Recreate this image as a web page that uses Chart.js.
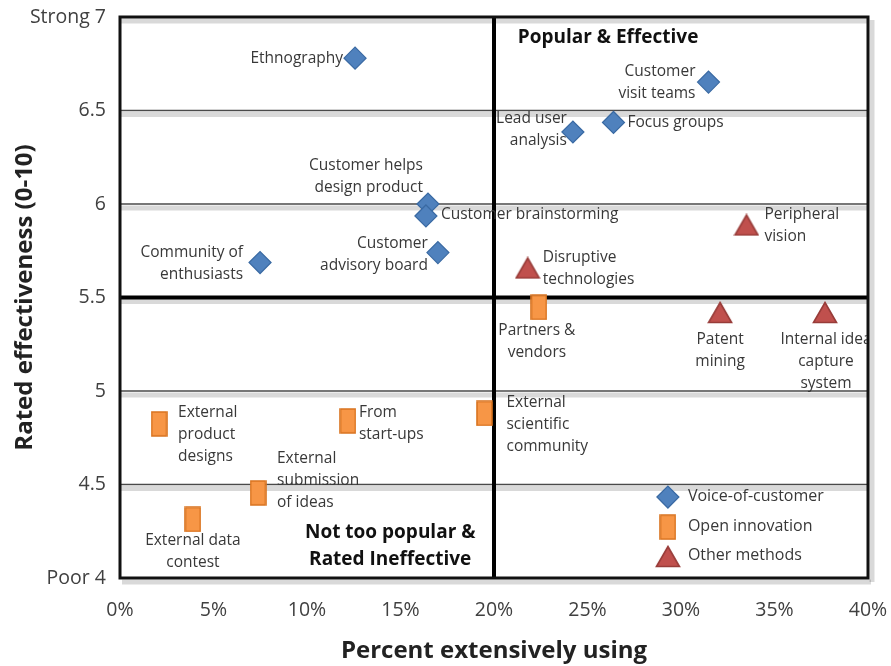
<!DOCTYPE html>
<html>
<head>
<meta charset="utf-8">
<script src="https://cdn.jsdelivr.net/npm/chart.js@4.4.1/dist/chart.umd.min.js"></script>
<style>
  html, body { margin: 0; padding: 0; background: #fff; }
  #wrap { width: 891px; height: 666px; position: relative; }
</style>
</head>
<body>
<div id="wrap"><canvas id="chart"></canvas></div>
<script>
// ---- data ----
const seriesNames = ['Voice-of-customer', 'Open innovation', 'Other methods'];

const vocNames = [['Ethnography'], ['Customer', 'visit teams'], ['Lead user', 'analysis'], ['Focus groups'],
  ['Customer helps', 'design product'], ['Customer brainstorming'], ['Customer', 'advisory board'], ['Community of', 'enthusiasts']];
const vocPct = [12.57, 31.47, 24.22, 26.39, 16.47, 16.36, 17.0, 7.49];
const vocScore = [6.78, 6.652, 6.385, 6.436, 6.0, 5.936, 5.74, 5.687];

const openNames = [['Partners &', 'vendors'], ['External', 'scientific', 'community'], ['External', 'product', 'designs'],
  ['From', 'start-ups'], ['External', 'submission', 'of ideas'], ['External data', 'contest']];
const openPct = [22.4, 19.49, 2.09, 12.19, 7.38, 3.9];
const openScore = [5.447, 4.88, 4.824, 4.84, 4.455, 4.313];

const otherNames = [['Disruptive', 'technologies'], ['Peripheral', 'vision'], ['Patent', 'mining'], ['Internal idea', 'capture', 'system']];
const otherPct = [21.8, 33.5, 32.09, 37.7];
const otherScore = [5.658, 5.888, 5.42, 5.42];

const xTickValues = [0, 5, 10, 15, 20, 25, 30, 35, 40];
const xTickLabels = ['0%', '5%', '10%', '15%', '20%', '25%', '30%', '35%', '40%'];
const yTickValues = [4, 4.5, 5, 5.5, 6, 6.5, 7];
const yTickLabels = ['Poor 4', '4.5', '5', '5.5', '6', '6.5', 'Strong 7'];

const xSplit = 20;    // popularity divider
const ySplit = 5.5;   // effectiveness divider

// label placement relative to its marker: [dx, dy of first line, align]
const vocLabelPos = [[-12, 0, 'right'], [-13, -10, 'right'], [-6, -13, 'right'], [14, 0, 'left'],
  [-5, -38, 'right'], [15, -1, 'left'], [-10, -9, 'right'], [-17, -10, 'right']];
const openLabelPos = [[-2, 23, 'center'], [22, -11, 'left'], [19, -11, 'left'],
  [11, -8, 'left'], [19, -34, 'left'], [0, 21, 'center']];
const otherLabelPos = [[15, -10, 'left'], [18, -10, 'left'], [0, 27, 'center'], [1, 27, 'center']];

const FONT = '"Open Sans", "Liberation Sans", sans-serif';
const TEXT = '#383838';

// orange bar marker and red triangle marker as small canvases
function makeMarker(w, h, fill, stroke, shape) {
  const c = document.createElement('canvas');
  c.width = w; c.height = h;
  const g = c.getContext('2d');
  g.fillStyle = fill; g.strokeStyle = stroke; g.lineWidth = 1.6;
  g.beginPath();
  if (shape === 'tri') {
    g.moveTo(w / 2, 1.5); g.lineTo(w - 1.5, h - 1.5); g.lineTo(1.5, h - 1.5); g.closePath();
  } else {
    g.rect(1, 1, w - 2, h - 2);
  }
  g.fill(); g.stroke();
  return c;
}
const barMarker = makeMarker(17, 26, '#F79646', '#D9731F', 'rect');
const triMarker = makeMarker(26, 23, '#C0504D', '#983C39', 'tri');

function pts(xs, ys) { return xs.map((v, i) => ({ x: v, y: ys[i] })); }

function hLine(ctx, x1, x2, y) { ctx.beginPath(); ctx.moveTo(x1, y); ctx.lineTo(x2, y); ctx.stroke(); }
function vLine(ctx, x, y1, y2) { ctx.beginPath(); ctx.moveTo(x, y1); ctx.lineTo(x, y2); ctx.stroke(); }

const framePlugin = {
  id: 'frame',
  beforeDatasetsDraw(chart) {
    const { ctx, chartArea: a, scales: { x, y } } = chart;
    ctx.save();
    // shadows under every horizontal rule
    ctx.strokeStyle = 'rgba(0,0,0,0.15)';
    ctx.lineWidth = 5;
    yTickValues.forEach(v => {
      if (v === 4) return;
      hLine(ctx, a.left, a.right, y.getPixelForValue(v) + 4);
    });
    hLine(ctx, a.left + 2, a.right + 3, a.bottom + 4);
    vLine(ctx, a.right + 4, a.top + 3, a.bottom + 4);
    // thin gridlines
    ctx.strokeStyle = '#4a4a4a';
    ctx.lineWidth = 1.5;
    yTickValues.forEach(v => {
      if (v === 4 || v === 7 || v === ySplit) return;
      hLine(ctx, a.left, a.right, y.getPixelForValue(v));
    });
    // quadrant dividers
    ctx.strokeStyle = '#000';
    ctx.lineWidth = 4;
    hLine(ctx, a.left, a.right, y.getPixelForValue(ySplit));
    vLine(ctx, x.getPixelForValue(xSplit), a.top, a.bottom);
    // outer frame
    ctx.lineWidth = 3;
    ctx.strokeStyle = '#111';
    ctx.strokeRect(a.left, a.top, a.right - a.left, a.bottom - a.top);

    // quadrant captions
    ctx.fillStyle = '#111';
    ctx.font = 'bold 19px ' + FONT;
    ctx.textAlign = 'center';
    ctx.textBaseline = 'middle';
    ctx.fillText('Popular & Effective', x.getPixelForValue(26.1), y.getPixelForValue(6.888));
    ctx.fillText('Not too popular &', x.getPixelForValue(14.45), y.getPixelForValue(4.241));
    ctx.fillText('Rated Ineffective', x.getPixelForValue(14.45), y.getPixelForValue(4.097));
    ctx.restore();
  },
  afterDatasetsDraw(chart) {
    const { ctx, chartArea: a, scales: { x, y } } = chart;
    const names = [vocNames, openNames, otherNames];
    const places = [vocLabelPos, openLabelPos, otherLabelPos];
    ctx.save();
    ctx.beginPath();
    ctx.rect(a.left, a.top, a.right - a.left - 1, a.bottom - a.top);
    ctx.clip();
    ctx.fillStyle = TEXT;
    ctx.font = '15.5px ' + FONT;
    ctx.textBaseline = 'middle';
    names.forEach((list, di) => {
      const meta = chart.getDatasetMeta(di);
      list.forEach((lines, j) => {
        const el = meta.data[j];
        const [dx, dy, align] = places[di][j];
        ctx.textAlign = align;
        lines.forEach((t, k) => ctx.fillText(t, el.x + dx, el.y + dy + k * 22));
      });
    });
    ctx.restore();

    // legend inside the lower right quadrant
    ctx.save();
    const lx = x.getPixelForValue(29.3);
    const legendY = [4.433, 4.272, 4.115];
    ctx.font = '16px ' + FONT;
    ctx.textAlign = 'left';
    ctx.textBaseline = 'middle';
    chart.data.datasets.forEach((ds, i) => {
      const py = y.getPixelForValue(legendY[i]);
      ctx.fillStyle = ds.backgroundColor;
      ctx.strokeStyle = ds.borderColor;
      ctx.lineWidth = ds.borderWidth;
      Chart.helpers.drawPoint(ctx, { pointStyle: ds.pointStyle, radius: ds.pointRadius, rotation: 0, borderWidth: ds.borderWidth }, lx, py);
      ctx.fillStyle = TEXT;
      ctx.fillText(ds.label, lx + 20, py - 1);
    });
    ctx.restore();
  }
};

new Chart(document.getElementById('chart'), {
  type: 'scatter',
  data: {
    datasets: [
      { label: seriesNames[0], data: pts(vocPct, vocScore), pointStyle: 'rectRot', pointRadius: 11,
        backgroundColor: '#4F81BD', borderColor: '#3A6AA3', borderWidth: 1.2 },
      { label: seriesNames[1], data: pts(openPct, openScore), pointStyle: barMarker, pointRadius: 10,
        backgroundColor: '#F79646', borderColor: '#D9731F', borderWidth: 1.2 },
      { label: seriesNames[2], data: pts(otherPct, otherScore), pointStyle: triMarker, pointRadius: 12,
        backgroundColor: '#C0504D', borderColor: '#983C39', borderWidth: 1.2 }
    ]
  },
  options: {
    responsive: true,
    maintainAspectRatio: false,
    animation: false,
    layout: { padding: { left: 0, right: 23, top: 17, bottom: 0 } },
    plugins: { legend: { display: false }, tooltip: { enabled: false } },
    scales: {
      x: {
        type: 'linear', min: 0, max: 40,
        afterBuildTicks: s => { s.ticks = xTickValues.map(v => ({ value: v })); },
        afterFit: s => { s.height = 88; s.paddingLeft = 0; s.paddingRight = 0; },
        grid: { display: false, drawTicks: false },
        border: { display: false },
        ticks: { padding: 21, color: '#404040', font: { family: FONT, size: 19.5 },
          callback: (v, i) => xTickLabels[i] },
        title: { display: true, text: 'Percent extensively using', color: '#222',
          font: { family: FONT, size: 24, weight: 'bold' }, padding: { top: 0, bottom: 0 } }
      },
      y: {
        type: 'linear', min: 4, max: 7,
        afterBuildTicks: s => { s.ticks = yTickValues.map(v => ({ value: v })); },
        afterFit: s => { s.width = 120; s.paddingTop = 0; s.paddingBottom = 0; },
        grid: { display: false, drawTicks: false },
        border: { display: false },
        ticks: { padding: 14, color: '#404040', font: { family: FONT, size: 19.5 },
          callback: (v, i) => yTickLabels[i] },
        title: { display: true, text: 'Rated effectiveness (0-10)', color: '#222',
          font: { family: FONT, size: 24, weight: 'bold' }, padding: { top: 11, bottom: 0 } }
      }
    }
  },
  plugins: [framePlugin]
});
</script>
</body>
</html>
